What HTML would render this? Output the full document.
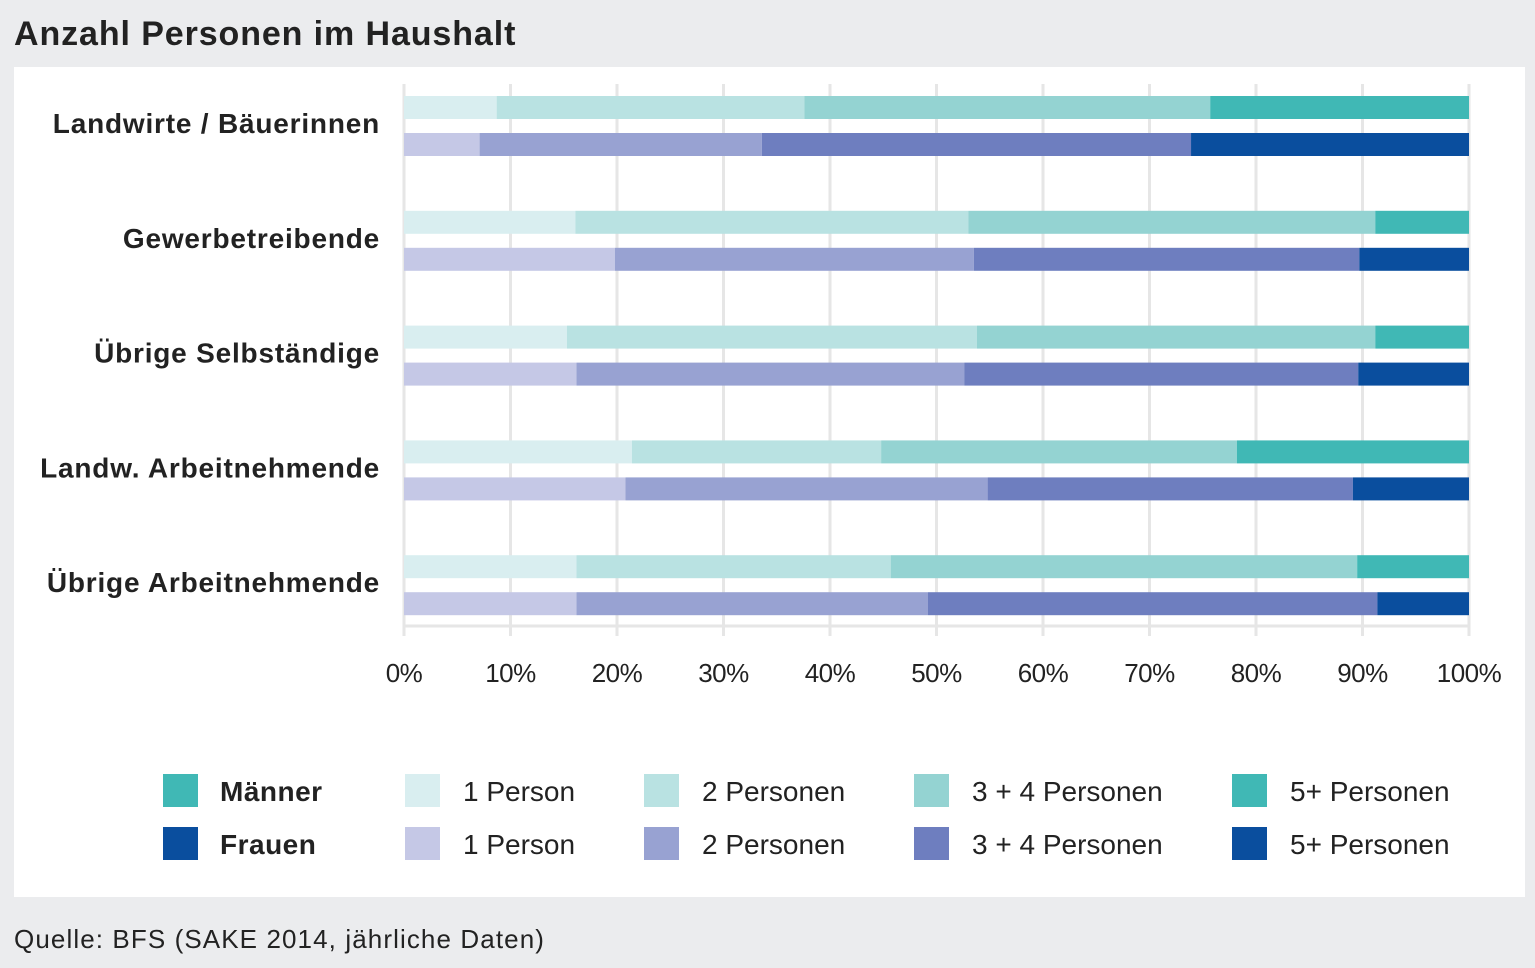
<!DOCTYPE html>
<html><head><meta charset="utf-8"><style>
body{margin:0;background:#ebecee;width:1535px;height:963px;overflow:hidden;font-family:"Liberation Sans",sans-serif;}
</style></head><body>
<svg id="chart" width="1535" height="963" xmlns="http://www.w3.org/2000/svg" font-family="Liberation Sans, sans-serif">
<rect x="0" y="0" width="1535" height="963" fill="#ebecee"/>
<text x="14" y="45" font-size="34" font-weight="bold" fill="#222" letter-spacing="0.9">Anzahl Personen im Haushalt</text>
<rect x="14" y="67" width="1511" height="830" fill="#fff"/>
<g id="grid"></g><g id="bars"></g><g id="labels"></g><g id="legend"></g>
<text x="14" y="948" font-size="26" fill="#222" letter-spacing="1.1">Quelle: BFS (SAKE 2014, jährliche Daten)</text>
</svg>
<script>
const categories=["Landwirte / Bäuerinnen","Gewerbetreibende","Übrige Selbständige","Landw. Arbeitnehmende","Übrige Arbeitnehmende"];
const seriesNames=["1 Person","2 Personen","3 + 4 Personen","5+ Personen"];
const men1=[8.7,16.1,15.3,21.4,16.2];
const men2=[28.9,36.9,38.5,23.4,29.5];
const men34=[38.1,38.2,37.4,33.4,43.8];
const men5=[24.3,8.8,8.8,21.8,10.5];
const women1=[7.1,19.8,16.2,20.8,16.2];
const women2=[26.5,33.7,36.4,34.0,33.0];
const women34=[40.3,36.2,37.0,34.3,42.2];
const women5=[26.1,10.3,10.4,10.9,8.6];
const ticks=[0,10,20,30,40,50,60,70,80,90,100];
const menColors=["#d9eef0","#b9e2e2","#94d3d2","#40b8b5"];
const womenColors=["#c5c8e6","#98a2d2","#6e7ebf","#0a4e9e"];
const NS="http://www.w3.org/2000/svg";
const x=v=>404+v*10.65;
function el(t,a,p){const e=document.createElementNS(NS,t);for(const k in a)e.setAttribute(k,a[k]);document.getElementById(p).appendChild(e);return e;}
ticks.forEach(t=>{
 const g=el("line",{x1:x(t),x2:x(t),y1:84,y2:636,stroke:"#e6e6e6","stroke-width":3},"grid");
 
 
 const tl=el("text",{x:x(t),y:682,"font-size":26,"text-anchor":"middle",fill:"#222","letter-spacing":"-0.5"},"grid");
 tl.textContent=t+"%";
 
 
});
const ax=el("line",{x1:404,x2:1469,y1:626,y2:626,stroke:"#e6e6e6","stroke-width":3},"grid");


const men=[men1,men2,men34,men5],women=[women1,women2,women34,women5];
categories.forEach((c,i)=>{
 const y0=96+i*114.8;
 [[men,menColors,y0,"men"],[women,womenColors,y0+37,"women"]].forEach(([s,cols,y,g])=>{
  let cum=0;
  s.forEach((arr,j)=>{
   const r=el("rect",{x:x(cum),y:y,width:x(cum+arr[i])-x(cum),height:23,fill:cols[j]},"bars");
   
   
   cum+=arr[i];
  });
 });
 const l=el("text",{x:380,y:y0+37,"font-size":28,"font-weight":"bold","text-anchor":"end",fill:"#222","letter-spacing":"0.8"},"labels");
 l.textContent=c;
 
 
});
[["Männer",menColors,774],["Frauen",womenColors,827]].forEach(([n,cols,y])=>{
 const s=el("rect",{x:163,y:y,width:35,height:33,fill:cols[3]},"legend");
 
 
 const t=el("text",{x:220,y:y+27,"font-size":28,"font-weight":"bold",fill:"#222","letter-spacing":"0.5"},"legend");
 t.textContent=n;
 
 
 const xs=[405,644,914,1232];
 seriesNames.forEach((sn,j)=>{
  const r=el("rect",{x:xs[j],y:y,width:35,height:33,fill:cols[j]},"legend");
  
  
  const tt=el("text",{x:xs[j]+58,y:y+27,"font-size":28,fill:"#222","letter-spacing":"0"},"legend");
  tt.textContent=sn;
  
  
 });
});
</script>
</body></html>
